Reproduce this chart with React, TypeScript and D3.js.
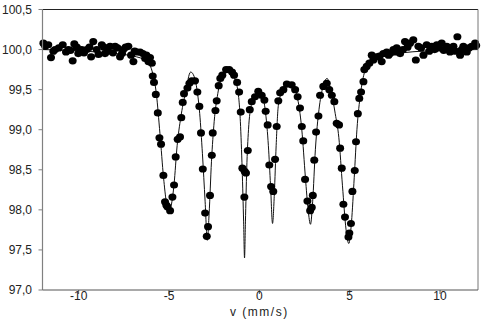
import React from 'react';
import * as d3 from 'd3';

// measured spectrum: [velocity mm/s, transmission %]
const points: [number, number][] = [
  [-11.95, 100.08], [-11.85, 100.04], [-11.68, 100.06], [-11.53, 99.9], [-11.4, 99.98],
  [-11.3, 100.0], [-11.1, 100.02], [-10.88, 100.06], [-10.7, 99.97], [-10.57, 100.0],
  [-10.45, 99.99], [-10.33, 99.86], [-10.24, 100.07], [-10.1, 100.03], [-10.02, 99.95],
  [-9.83, 100.0], [-9.7, 99.96], [-9.55, 100.0], [-9.4, 100.03], [-9.31, 99.91],
  [-9.19, 100.1], [-9.0, 100.0], [-8.9, 99.94], [-8.72, 100.06], [-8.6, 100.03],
  [-8.54, 99.95], [-8.4, 99.98], [-8.26, 100.04], [-8.1, 99.96], [-7.98, 100.04],
  [-7.85, 100.02], [-7.71, 99.91], [-7.6, 99.95], [-7.53, 100.0], [-7.4, 100.03],
  [-7.25, 100.04], [-7.1, 99.93], [-6.97, 99.85], [-6.9, 99.98], [-6.78, 99.97],
  [-6.6, 99.97], [-6.45, 99.95], [-6.32, 99.89], [-6.25, 99.93], [-6.14, 99.85],
  [-6.05, 99.9], [-5.95, 99.83],
  [-5.9, 99.67], [-5.83, 99.59], [-5.73, 99.44], [-5.62, 99.21], [-5.53, 98.9],
  [-5.44, 98.82], [-5.31, 98.43], [-5.22, 98.1], [-5.15, 98.06], [-5.09, 98.04],
  [-4.94, 97.99], [-4.81, 98.16], [-4.72, 98.31], [-4.63, 98.66], [-4.52, 98.88],
  [-4.39, 98.91], [-4.32, 99.15], [-4.24, 99.34], [-4.17, 99.45], [-3.98, 99.52],
  [-3.87, 99.58], [-3.74, 99.61], [-3.56, 99.61], [-3.43, 99.47], [-3.32, 99.29],
  [-3.23, 98.96], [-3.13, 98.51], [-3.0, 97.96], [-2.91, 97.67], [-2.84, 97.79],
  [-2.73, 98.18], [-2.63, 98.68], [-2.58, 98.96], [-2.43, 99.24], [-2.36, 99.36],
  [-2.25, 99.55], [-2.16, 99.64], [-2.05, 99.68], [-1.84, 99.75], [-1.67, 99.75],
  [-1.51, 99.72], [-1.4, 99.68], [-1.23, 99.59], [-1.12, 99.47], [-1.03, 99.22],
  [-0.94, 98.52], [-0.83, 98.16], [-0.81, 98.48], [-0.74, 98.46], [-0.64, 98.74],
  [-0.53, 99.25], [-0.42, 99.35], [-0.24, 99.41], [-0.06, 99.48], [0.13, 99.43],
  [0.28, 99.37], [0.35, 99.23], [0.46, 99.06], [0.55, 98.56], [0.65, 98.29],
  [0.77, 98.23], [0.87, 98.63], [0.96, 99.04], [1.05, 99.36], [1.15, 99.46],
  [1.33, 99.5], [1.52, 99.57], [1.79, 99.56], [1.98, 99.5], [2.12, 99.41],
  [2.25, 99.27], [2.35, 99.04], [2.43, 98.86], [2.53, 98.38], [2.66, 98.11],
  [2.81, 97.99], [2.9, 98.03], [2.96, 98.18], [3.04, 98.62], [3.14, 98.97],
  [3.27, 99.17], [3.36, 99.43], [3.54, 99.54], [3.73, 99.58], [3.87, 99.5],
  [4.01, 99.43], [4.15, 99.35], [4.28, 99.08], [4.41, 99.06], [4.47, 98.77],
  [4.56, 98.52], [4.65, 98.07], [4.74, 97.91], [4.93, 97.66], [4.98, 97.71],
  [5.07, 97.83], [5.15, 98.23], [5.28, 98.49], [5.35, 98.85], [5.45, 99.2],
  [5.53, 99.39], [5.63, 99.47], [5.76, 99.6],
  [5.81, 99.75], [5.94, 99.79], [6.09, 99.83], [6.22, 99.93], [6.31, 99.87],
  [6.5, 99.91], [6.65, 99.92], [6.77, 99.85], [6.86, 99.95], [7.05, 99.97],
  [7.15, 99.93], [7.23, 99.95], [7.42, 100.0], [7.5, 99.97], [7.6, 100.02],
  [7.79, 99.95], [7.95, 100.0], [8.06, 100.1], [8.2, 100.03], [8.34, 100.08],
  [8.52, 100.12], [8.66, 99.87], [8.8, 100.04], [8.95, 100.02], [9.08, 99.93],
  [9.26, 100.06], [9.4, 99.98], [9.54, 100.04], [9.7, 100.0], [9.82, 100.06],
  [9.95, 100.02], [10.09, 100.08], [10.2, 99.99], [10.37, 100.04], [10.45, 100.02],
  [10.55, 99.97], [10.74, 100.04], [10.85, 99.98], [10.96, 100.16], [11.11, 99.93],
  [11.2, 100.0], [11.29, 100.04], [11.48, 99.97], [11.6, 100.02], [11.75, 100.04],
  [11.94, 100.08], [12.0, 100.05],
];

// fitted curve
const fit: [number, number][] = [
  [-12, 100.0], [-9, 99.97], [-7, 99.92], [-6.2, 99.85], [-5.9, 99.7], [-5.7, 99.45],
  [-5.5, 98.95], [-5.3, 98.4], [-5.15, 98.1], [-5.02, 97.97], [-4.88, 98.05],
  [-4.72, 98.32], [-4.55, 98.8], [-4.35, 99.15], [-4.1, 99.45], [-3.8, 99.72],
  [-3.6, 99.66], [-3.45, 99.5], [-3.3, 99.2], [-3.15, 98.7], [-3.0, 98.1],
  [-2.88, 97.62], [-2.78, 97.95], [-2.65, 98.6], [-2.5, 99.1], [-2.3, 99.45],
  [-2.1, 99.65], [-1.85, 99.73], [-1.6, 99.73], [-1.4, 99.65], [-1.2, 99.5],
  [-1.05, 99.1], [-0.95, 98.5], [-0.87, 97.85], [-0.82, 97.4], [-0.77, 97.85],
  [-0.7, 98.5], [-0.6, 99.0], [-0.45, 99.3], [-0.2, 99.43], [0.0, 99.47],
  [0.2, 99.4], [0.35, 99.2], [0.5, 98.8], [0.62, 98.3], [0.73, 97.83],
  [0.83, 98.2], [0.93, 98.8], [1.05, 99.3], [1.3, 99.5], [1.6, 99.57],
  [1.9, 99.52], [2.15, 99.35], [2.35, 99.0], [2.55, 98.4], [2.7, 98.0],
  [2.83, 97.82], [2.95, 98.1], [3.1, 98.75], [3.3, 99.25], [3.5, 99.52],
  [3.75, 99.64], [3.95, 99.5], [4.2, 99.2], [4.4, 98.9], [4.6, 98.3],
  [4.8, 97.75], [4.95, 97.58], [5.1, 97.85], [5.25, 98.4], [5.4, 99.0],
  [5.6, 99.45], [5.8, 99.7], [6.1, 99.82], [7, 99.92], [9, 99.98], [12.1, 100.0],
];

const xTicks = [-10, -5, 0, 5, 10];
const yTicks = [97.0, 97.5, 98.0, 98.5, 99.0, 99.5, 100.0, 100.5];

const W = 486;
const H = 328;
const left = 42.5, right = 478, top = 9.5, bottom = 290;

const locale = d3.formatLocale({ decimal: ',', thousands: '.', grouping: [3], currency: ['', ''] });
const fmt = locale.format('.1f');

export default function App() {
  const x = d3.scaleLinear().domain([-12, 12.1]).range([left, right]);
  const y = d3.scaleLinear().domain([97, 100.5]).range([bottom, top]);
  const line = d3.line<[number, number]>()
    .x(d => x(d[0]))
    .y(d => y(d[1]))
    .curve(d3.curveMonotoneX);
  const font = { fontFamily: '"Liberation Sans", Arial, sans-serif', fontSize: 12 };

  return (
    <svg width={W} height={H} style={{ position: 'absolute', left: 0, top: 0, background: '#fff' }}>
      <path d={line(fit) || ''} fill="none" stroke="#111" strokeWidth={1} />
      {points.map((p, i) => (
        <ellipse key={i} cx={x(p[0])} cy={y(p[1])} rx={4} ry={3.6} fill="#000" />
      ))}
      {/* frame */}
      <line x1={left} x2={right} y1={top} y2={top} stroke="#222" strokeWidth={1} />
      <line x1={right} x2={right} y1={top} y2={bottom} stroke="#777" strokeWidth={1} />
      <line x1={left} x2={left} y1={top} y2={bottom} stroke="#808080" strokeWidth={1.2} />
      <line x1={left} x2={right} y1={bottom} y2={bottom} stroke="#555" strokeWidth={1.2} />
      {yTicks.map(t => (
        <g key={t}>
          <line x1={left - 4} x2={left} y1={y(t)} y2={y(t)} stroke="#808080" />
          <text x={32} y={y(t)} dy="0.36em" textAnchor="end" fill="#222" style={font}>{fmt(t)}</text>
        </g>
      ))}
      {xTicks.map(t => (
        <g key={t}>
          <line x1={x(t)} x2={x(t)} y1={bottom} y2={bottom + 4} stroke="#555" />
          <text x={x(t)} y={299.5} textAnchor="middle" fill="#222" style={font}>{t}</text>
        </g>
      ))}
      <text x={x(0)} y={315.5} textAnchor="middle" fill="#222" style={{ ...font, letterSpacing: 1.5 }}>v (mm/s)</text>
    </svg>
  );
}
